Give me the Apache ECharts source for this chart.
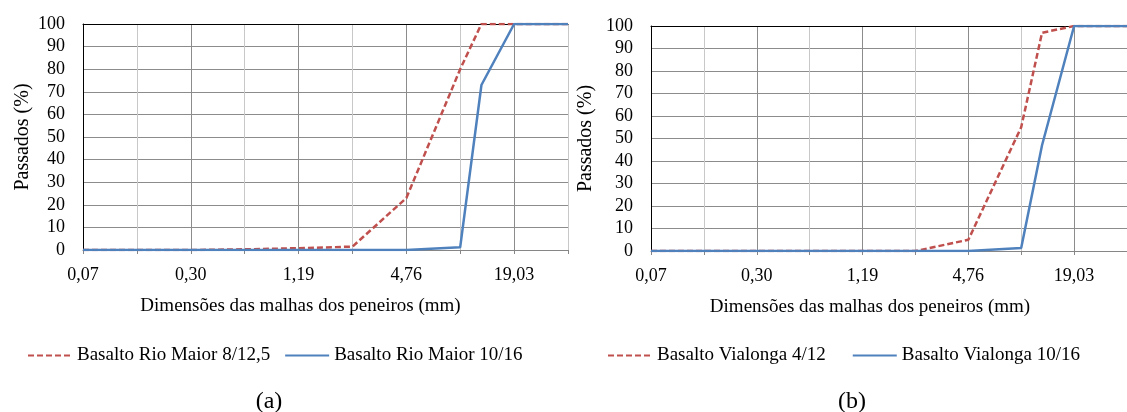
<!DOCTYPE html>
<html>
<head>
<meta charset="utf-8">
<script src="https://cdn.jsdelivr.net/npm/echarts@6/dist/echarts.min.js"></script>
<style>
html,body{margin:0;padding:0;background:#fff;}
#chart{width:1127px;height:412px;}
</style>
</head>
<body>
<div id="chart"></div>
<script>
// Sieve sizes (mm)
const sieveSizes = [0.0743, 0.149, 0.297, 0.595, 1.19, 2.38, 4.76, 9.51, 12.5, 19.03, 38.06];
// Panel (a)
const rioMaior8_12 = [0, 0, 0, 0.3, 0.8, 1.5, 23, 80, 100, 100, 100];
const rioMaior10_16 = [0, 0, 0, 0, 0, 0, 0, 1.2, 73, 100, 100];
// Panel (b)
const vialonga4_12 = [0, 0, 0, 0, 0, 0, 5, 55, 97, 100, 100];
const vialonga10_16 = [0, 0, 0, 0, 0, 0, 0, 1.3, 47, 100, 100];
// Axis ticks
const gridTicks = [0.07434, 0.14867, 0.29734, 0.59469, 1.18938, 2.37875, 4.7575, 9.515, 19.03, 38.06];
const labelTicks = [0.07434, 0.29734, 1.18938, 4.7575, 19.03];
const yTicksMax = 100;

const FONT = 'Liberation Serif';
const RED = '#C0504D', BLUE = '#4F81BD';

function pairs(ys){ return sieveSizes.map((x,i)=>[x, ys[i]]); }

function xAxisFor(gi, padRight){
  return {
    type:'log', logBase:2, gridIndex:gi,
    min:gridTicks[0], max:gridTicks[gridTicks.length-1],
    name:'Dimensões das malhas dos peneiros (mm)',
    nameLocation:'middle', nameGap:47,
    nameTextStyle:{fontFamily:FONT, fontSize:19, color:'#000', padding:[0,padRight,0,0]},
    axisLine:{show:true, lineStyle:{color:'#868686', width:1}},
    axisTick:{show:true, customValues:gridTicks, length:4, lineStyle:{color:'#868686'}},
    axisLabel:{customValues:labelTicks, fontFamily:FONT, fontSize:18, color:'#000', margin:16,
      formatter:(v)=>Number(v).toFixed(2).replace('.', ',')},
    splitLine:{show:true, lineStyle:{color:['#8c8c8c','#c8c8c8'], width:1}},
    minorTick:{show:false}
  };
}
function topAxisFor(gi){
  return {type:'value', gridIndex:gi, position:'top', min:0, max:1,
    axisLine:{show:true, onZero:false, lineStyle:{color:'#000', width:1}},
    axisTick:{show:false}, axisLabel:{show:false}, splitLine:{show:false}};
}
function yAxisFor(gi, gap){
  return {
    type:'value', gridIndex:gi, min:0, max:yTicksMax, interval:10,
    name:'Passados (%)', nameLocation:'middle', nameGap:gap,
    nameTextStyle:{fontFamily:FONT, fontSize:20, color:'#000'},
    axisLine:{show:true, lineStyle:{color:'#000', width:1}},
    axisTick:{show:false},
    axisLabel:{fontFamily:FONT, fontSize:18, color:'#000', margin:18},
    splitLine:{show:true, lineStyle:{color:'#8c8c8c', width:1}}
  };
}
function lineSeries(name, ys, xi, yi, dashed){
  return {
    name, type:'line', xAxisIndex:xi, yAxisIndex:yi, data:pairs(ys),
    symbol:'none', smooth:false, animation:false,
    lineStyle:{color: dashed?RED:BLUE, width:2.5, type: dashed?[6,3]:'solid'},
    itemStyle:{color: dashed?RED:BLUE}
  };
}

const chart = echarts.init(document.getElementById('chart'), null, {renderer:'canvas'});
chart.setOption({
  animation:false,
  backgroundColor:'#fff',
  textStyle:{fontFamily:FONT},
  grid:[
    {left:83, right:559, top:24, bottom:162},
    {left:651, right:-5.5, top:26, bottom:161}
  ],
  xAxis:[xAxisFor(0,50), xAxisFor(1,38), topAxisFor(0), topAxisFor(1)],
  yAxis:[yAxisFor(0,50), yAxisFor(1,55)],
  legend:[
    {left:22, top:341, itemWidth:44, itemHeight:14, itemGap:14,
     itemStyle:{opacity:0},
     data:['Basalto Rio Maior 8/12,5','Basalto Rio Maior 10/16'],
     textStyle:{fontFamily:FONT, fontSize:19, color:'#000'}},
    {left:602, top:341, itemWidth:44, itemHeight:14, itemGap:26,
     itemStyle:{opacity:0},
     data:['Basalto Vialonga 4/12','Basalto Vialonga 10/16'],
     textStyle:{fontFamily:FONT, fontSize:19, color:'#000'}}
  ],
  title:[
    {text:'(a)', left:264, top:385, textAlign:'center', textStyle:{fontFamily:FONT, fontSize:24, fontWeight:'normal', color:'#000'}},
    {text:'(b)', left:847, top:385, textAlign:'center', textStyle:{fontFamily:FONT, fontSize:24, fontWeight:'normal', color:'#000'}}
  ],
  series:[
    lineSeries('Basalto Rio Maior 8/12,5', rioMaior8_12, 0, 0, true),
    lineSeries('Basalto Rio Maior 10/16', rioMaior10_16, 0, 0, false),
    lineSeries('Basalto Vialonga 4/12', vialonga4_12, 1, 1, true),
    lineSeries('Basalto Vialonga 10/16', vialonga10_16, 1, 1, false)
  ]
});
</script>
</body>
</html>
